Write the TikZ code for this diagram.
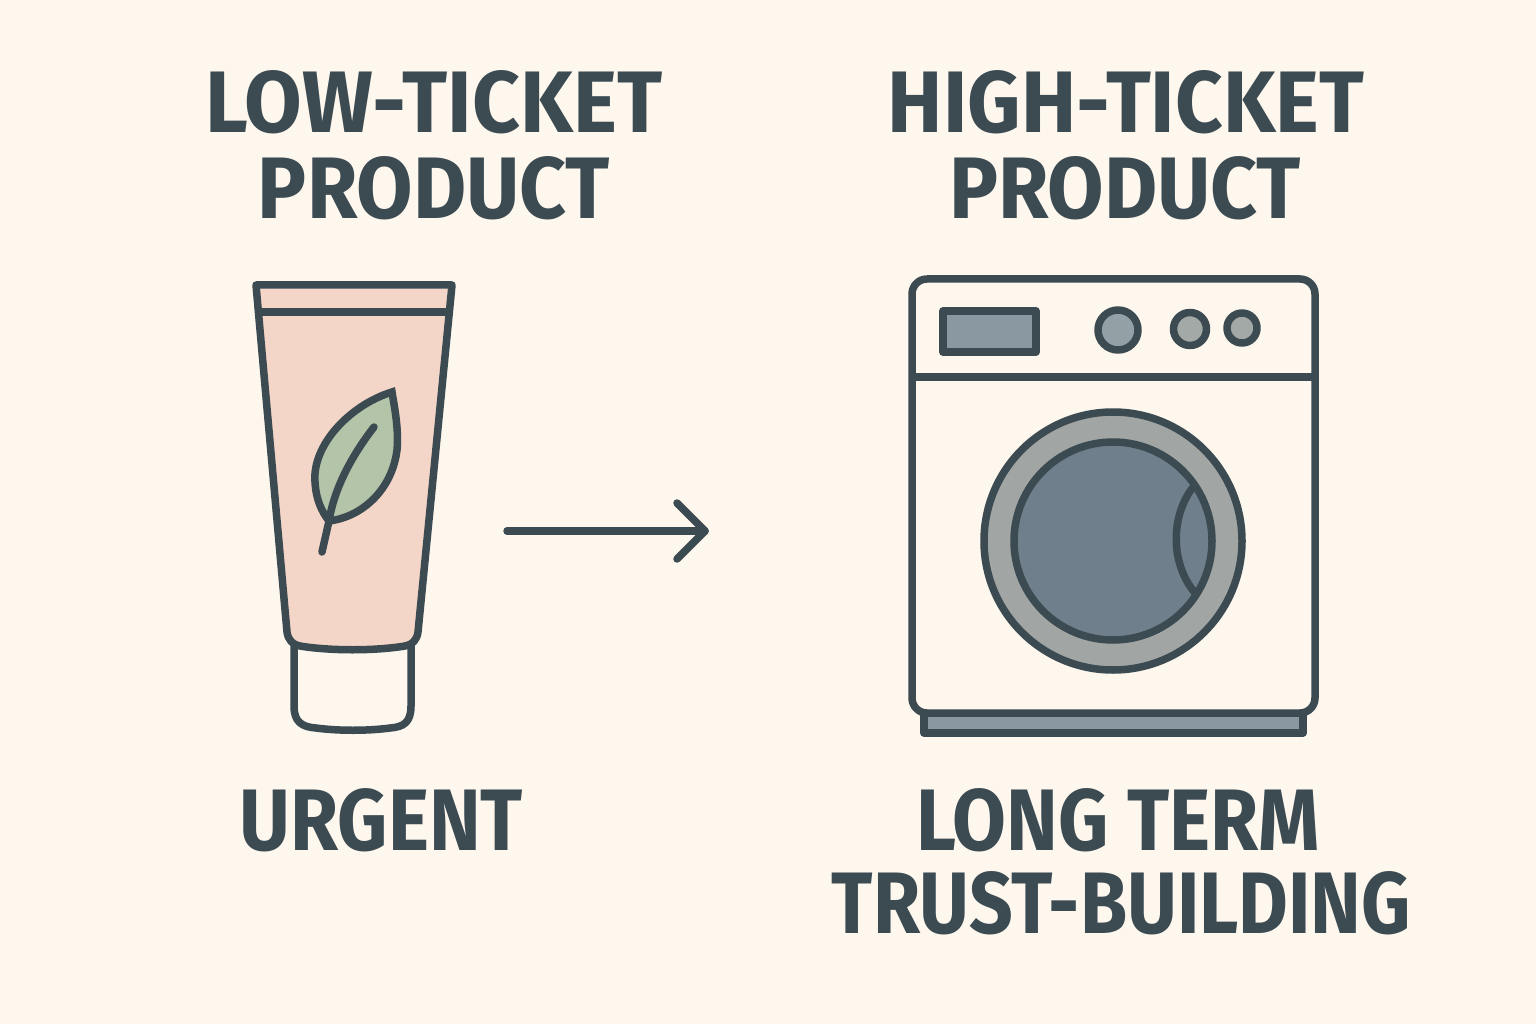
\documentclass[tikz,border=0pt]{standalone}
\usepackage{fontspec}
\setmainfont{Fira Sans}
\definecolor{bgc}{HTML}{FDF7EE}
\definecolor{ink}{HTML}{3C4A52}
\definecolor{tube}{HTML}{F4D6C8}
\definecolor{leaf}{HTML}{B4C4A9}
\definecolor{door}{HTML}{6F808C}
\definecolor{ring}{HTML}{A1A6A5}
\definecolor{panel}{HTML}{8A98A2}
\definecolor{knoba}{HTML}{93A0A6}
\definecolor{knobb}{HTML}{A3A9A6}
\newcommand{\fit}[3]{\resizebox{#1pt}{#2pt}{\fontsize{90}{100}\bfseries\selectfont #3}}
\tikzset{
  outline/.style={draw=ink,line width=7.5pt,line join=round,line cap=round},
  title/.style={anchor=base,inner sep=0pt,text=ink}
}
\begin{document}
\begin{tikzpicture}[x=1pt,y=-1pt]
\useasboundingbox (0,0) rectangle (1536,1024);
\fill[bgc] (0,0) rectangle (1536,1024);
% titles
\node[title] (t1) at (433.5,132.3) {\fit{457}{62}{LOW-TICKET}};
\node[title] (t2) at (434,219) {\fit{352}{62}{PRODUCT}};
\node[title] (t3) at (1126,132.3) {\fit{476}{62}{HIGH-TICKET}};
\node[title] (t4) at (1125,219) {\fit{352}{62}{PRODUCT}};
\node[title] (t5) at (381.5,850) {\fit{283}{62}{URGENT}};
\node[title] (t6) at (1118,850) {\fit{404}{62}{LONG TERM}};
\node[title] (t7) at (1121.5,933) {\fit{579}{62}{TRUST-BUILDING}};
% tube cap
\draw[outline,fill=bgc] (294,640) -- (294,706) .. controls (294,722) and (302,727) .. (316,728)
  .. controls (338,731) and (368,731) .. (390,728) .. controls (404,727) and (411,722) .. (411,706) -- (411,640) -- cycle;
% tube body
\draw[outline,fill=tube] (256,285) -- (452,285) -- (418,632)
  .. controls (417,640) and (412,645) .. (405,646)
  .. controls (375,651) and (330,651) .. (300,646)
  .. controls (293,645) and (288,640) .. (287,632) -- cycle;
\draw[outline,line cap=butt] (258,312) -- (450,312);
% leaf
\draw[outline,fill=leaf,line join=miter] (392,392)
  .. controls (350,405) and (312,445) .. (315,482)
  .. controls (316,500) and (322,512) .. (329,521)
  .. controls (362,517) and (392,490) .. (397,450)
  .. controls (399,428) and (394,405) .. (392,392) -- cycle;
\draw[outline] (374,427) .. controls (350,458) and (334,490) .. (329,521) -- (322,552);
% arrow
\coordinate (from) at (507,531);
\coordinate (to) at (705,531);
\coordinate (headA) at (677,503);
\coordinate (headB) at (677,559);
\draw[outline] (from) -- (to);
\draw[outline] (headA) -- (to) -- (headB);
% washer base
\draw[outline,fill=panel,line join=round] (924,713) rectangle (1303,733);
% washer body
\draw[outline,fill=bgc,rounded corners=15pt] (912,279) rectangle (1315,713);
\draw[outline,line cap=butt] (912,377) -- (1315,377);
% control panel
\draw[outline,fill=panel] (943,311) rectangle (1036,352);
\draw[outline,fill=knoba] (1118,330) circle (20);
\draw[outline,fill=knobb] (1190,329) circle (16.5);
\draw[outline,fill=knobb] (1242,328) circle (15);
% door
\draw[outline,fill=ring] (1113,541) circle (129);
\draw[outline,fill=door] (1113,541) circle (99);
\draw[outline] (1194,486) .. controls (1170,515) and (1170,565) .. (1196,594);
\end{tikzpicture}
\end{document}
